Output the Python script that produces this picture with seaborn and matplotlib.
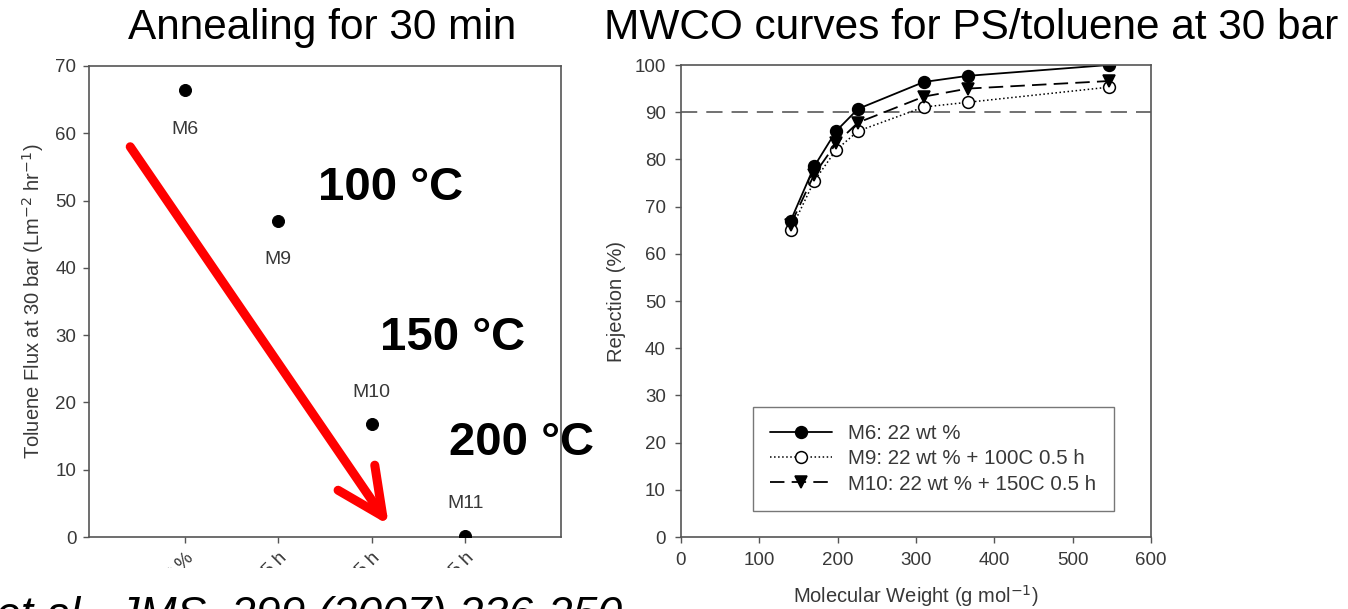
import numpy as np
import pandas as pd
import matplotlib
matplotlib.use('Agg')
import matplotlib.pyplot as plt
from matplotlib.patches import Rectangle
import seaborn as sns

# Left panel: flux of each membrane
samples = ["M6", "M9", "M10", "M11"]
flux = [66.4, 47.0, 16.8, 0.2]
sample_ticks = ["22 wt %", "+ 100C 0.5 h", "+ 150C 0.5 h", "+ 200C 0.5 h"]
temps = ["100 °C", "150 °C", "200 °C"]

# Right panel: MWCO curves
mw = [140, 170, 198, 226, 310, 366, 546]
rej_m6 = [67.0, 78.5, 86.0, 90.7, 96.4, 97.7, 100.0]
rej_m9 = [65.0, 75.4, 82.0, 86.0, 91.1, 92.1, 95.3]
rej_m10 = [66.2, 76.8, 83.4, 87.8, 93.3, 95.0, 96.6]
series_names = ["M6: 22 wt %", "M9: 22 wt % + 100C 0.5 h", "M10: 22 wt % + 150C 0.5 h"]

W, H = 1348, 609
fig = plt.figure(figsize=(W / 100, H / 100), dpi=100)
sns.set_theme(style="ticks")
plt.rcParams['font.family'] = ['Liberation Sans', 'DejaVu Sans']
plt.rcParams['text.color'] = 'black'

axis_grey = "#555555"
text_grey = "#383838"

ax1 = fig.add_axes([89 / W, 1 - 537 / H, (561 - 89) / W, (537 - 66) / H])
ax2 = fig.add_axes([681 / W, 1 - 537 / H, (1151 - 681) / W, (537 - 65) / H])

for ax in (ax1, ax2):
    for sp in ax.spines.values():
        sp.set_color(axis_grey)
        sp.set_linewidth(1.2)
    ax.tick_params(colors=axis_grey, labelcolor=text_grey, labelsize=13.5,
                   direction='out', length=4, width=1, pad=5)
    ax.set_facecolor('white')

# ---- left plot
df_flux = pd.DataFrame({"pos": np.arange(len(samples)), "flux": flux, "sample": samples})
sns.scatterplot(data=df_flux, x="pos", y="flux", ax=ax1, color="black", s=75,
                edgecolor="black", zorder=3, legend=False)
for i, (name, val) in enumerate(zip(samples, flux)):
    off = -28 if i < 2 else 23
    ax1.annotate(name, (i, val), xytext=(0, off), textcoords='offset points',
                 ha='center', va='center', fontsize=14, color=text_grey)
ax1.set_xlim(-1.02, 4.02)
ax1.set_ylim(0, 70)
ax1.set_yticks(range(0, 71, 10))
ax1.set_xticks(range(len(samples)))
ax1.set_xticklabels(sample_ticks, rotation=45, ha='right', rotation_mode='anchor')
ax1.set_xlabel("")
ax1.set_ylabel("Toluene Flux at 30 bar (Lm$^{-2}$ hr$^{-1}$)", fontsize=14.5,
               color=text_grey, labelpad=7)

ax1.annotate("", xy=(2.18, 1.8), xytext=(-0.58, 58.0),
             arrowprops=dict(arrowstyle="->,head_length=1.05,head_width=0.5",
                             color="#ff0000", lw=6.5, mutation_scale=32,
                             shrinkA=0, shrinkB=0))

# ---- right plot
styles = [dict(marker='o', linestyle='-', mfc='black', lw=1.3),
          dict(marker='o', linestyle=':', mfc='white', lw=1.1),
          dict(marker='v', linestyle=(0, (8, 4)), mfc='black', lw=1.3)]
for name, vals, st in zip(series_names, [rej_m6, rej_m9, rej_m10], styles):
    sns.lineplot(x=mw, y=vals, ax=ax2, color='black', marker=st['marker'],
                 linestyle=st['linestyle'], linewidth=st['lw'], markersize=8.5,
                 markerfacecolor=st['mfc'], markeredgecolor='black',
                 markeredgewidth=1.1, label=name)
ax2.axhline(90, color="#666666", lw=1.3, linestyle=(0, (9, 5)), zorder=1)
ax2.set_xlim(0, 600)
ax2.set_ylim(0, 100)
ax2.set_xticks(range(0, 601, 100))
ax2.set_yticks(range(0, 101, 10))
ax2.tick_params(axis='x', pad=7)
ax2.tick_params(axis='y', pad=7)
ax2.set_xlabel("Molecular Weight (g mol$^{-1}$)", fontsize=14.5, color=text_grey, labelpad=10)
ax2.set_ylabel("Rejection (%)", fontsize=14.5, color=text_grey, labelpad=6)
leg = ax2.legend(loc='lower left', bbox_to_anchor=(0.153, 0.055), fontsize=14.8,
                 frameon=True, fancybox=False, handlelength=3.0, borderpad=0.85,
                 labelspacing=0.3, borderaxespad=0, handletextpad=0.8)
leg.get_frame().set_edgecolor(axis_grey)
leg.get_frame().set_linewidth(1.0)
for t in leg.get_texts():
    t.set_color(text_grey)

# ---- slide texts
fig.text(322 / W, 1 - 28 / H, "Annealing for 30 min", ha='center', va='center', fontsize=30.5)
fig.text(971 / W, 1 - 28 / H, "MWCO curves for PS/toluene at 30 bar", ha='center',
         va='center', fontsize=30.5)
for label, (px, py) in zip(temps, [(318, 188), (380, 338), (449, 443)]):
    fig.text(px / W, 1 - py / H, label, ha='left', va='center', fontsize=34, fontweight='bold')

fig.add_artist(Rectangle((0, 0), 640 / W, 1 - 568 / H, transform=fig.transFigure,
                         facecolor='white', edgecolor='none', zorder=5))
fig.text(-4 / W, -19 / H, "et al., JMS, 299 (2007) 236-250", ha='left', va='baseline',
         fontsize=32, style='italic', zorder=6)

fig.savefig("out.png", dpi=100)
plt.close(fig)
